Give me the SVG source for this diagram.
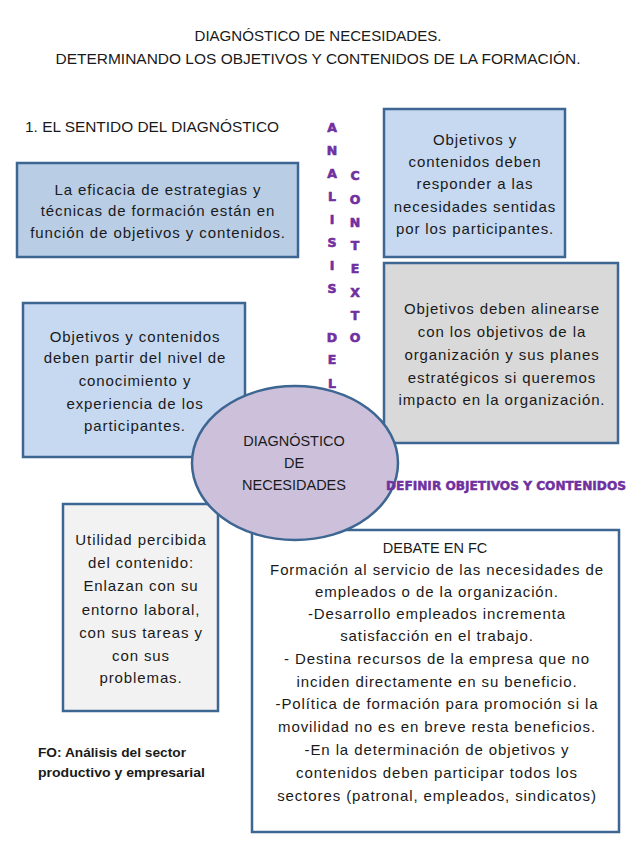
<svg xmlns="http://www.w3.org/2000/svg" width="636" height="848" viewBox="0 0 636 848">
<style>
.t{font-family:"Liberation Sans",Arial,sans-serif;font-size:15px;letter-spacing:0.9px;fill:#1a1a1a;text-anchor:middle}
.u{font-family:"Liberation Sans",Arial,sans-serif;font-size:14.5px;fill:#1a1a1a;text-anchor:middle}
.h{font-family:"Liberation Sans",Arial,sans-serif;font-size:14.5px;fill:#1a1a1a}
.box{stroke:#3d6692;stroke-width:2.5}
.v{font-family:"DejaVu Sans",sans-serif;font-weight:bold;font-size:12.5px;fill:#7030a0;text-anchor:middle;stroke:#7030a0;stroke-width:0.6}
.fo{font-family:"Liberation Sans",Arial,sans-serif;font-size:13px;font-weight:bold;fill:#1a1a1a}
</style>
<rect width="636" height="848" fill="#ffffff"/>
<g id="title">
<text class="u" x="318" y="41" textLength="247" lengthAdjust="spacingAndGlyphs">DIAGNÓSTICO DE NECESIDADES.</text>
<text class="u" x="318" y="64" textLength="525" lengthAdjust="spacingAndGlyphs">DETERMINANDO LOS OBJETIVOS Y CONTENIDOS DE LA FORMACIÓN.</text>
<text class="h" x="25" y="132" textLength="254" lengthAdjust="spacingAndGlyphs">1. EL SENTIDO DEL DIAGNÓSTICO</text>
</g>
<g id="analisis">
<text class="v" x="332" y="132">A</text>
<text class="v" x="332" y="155">N</text>
<text class="v" x="332" y="178">A</text>
<text class="v" x="332" y="201">L</text>
<text class="v" x="332" y="224">I</text>
<text class="v" x="332" y="247">S</text>
<text class="v" x="332" y="270">I</text>
<text class="v" x="332" y="293">S</text>
<text class="v" x="332" y="342">D</text>
<text class="v" x="332" y="364">E</text>
<text class="v" x="332" y="388">L</text>
<text class="v" x="355" y="180">C</text>
<text class="v" x="355" y="204">O</text>
<text class="v" x="355" y="227">N</text>
<text class="v" x="355" y="250">T</text>
<text class="v" x="355" y="273">E</text>
<text class="v" x="355" y="297">X</text>
<text class="v" x="355" y="320">T</text>
<text class="v" x="355" y="342">O</text>
</g>
<g id="box1">
<rect class="box" x="17" y="163" width="281" height="94" fill="#b9cde5"/>
<text class="t" x="158" y="195">La eficacia de estrategias y</text>
<text class="t" x="158" y="216">técnicas de formación están en</text>
<text class="t" x="158" y="238">función de objetivos y contenidos.</text>
</g>
<g id="box2">
<rect class="box" x="23" y="303" width="222" height="154" fill="#c6d9f1"/>
<text class="t" x="135" y="342">Objetivos y contenidos</text>
<text class="t" x="135" y="363">deben partir del nivel de</text>
<text class="t" x="135" y="386">conocimiento y</text>
<text class="t" x="135" y="409">experiencia de los</text>
<text class="t" x="135" y="431">participantes.</text>
</g>
<g id="box3">
<rect class="box" x="384" y="109" width="181" height="148" fill="#c6d9f1"/>
<text class="t" x="475" y="145">Objetivos y</text>
<text class="t" x="475" y="167">contenidos deben</text>
<text class="t" x="475" y="189">responder a las</text>
<text class="t" x="475" y="212">necesidades sentidas</text>
<text class="t" x="475" y="234">por los participantes.</text>
</g>
<g id="box4">
<rect class="box" x="384" y="263" width="234" height="180" fill="#d9d9d9"/>
<text class="t" x="502" y="314">Objetivos deben alinearse</text>
<text class="t" x="502" y="337">con los objetivos de la</text>
<text class="t" x="502" y="360">organización y sus planes</text>
<text class="t" x="502" y="383">estratégicos si queremos</text>
<text class="t" x="502" y="405">impacto en la organización.</text>
</g>
<g id="box5">
<rect class="box" x="63" y="504" width="155" height="207" fill="#f2f2f2"/>
<text class="t" x="141" y="545">Utilidad percibida</text>
<text class="t" x="141" y="568">del contenido:</text>
<text class="t" x="141" y="591">Enlazan con su</text>
<text class="t" x="141" y="615">entorno laboral,</text>
<text class="t" x="141" y="638">con sus tareas y</text>
<text class="t" x="141" y="661">con sus</text>
<text class="t" x="141" y="683">problemas.</text>
</g>
<g id="box6">
<rect class="box" x="252" y="530" width="367" height="302" fill="#ffffff"/>
<text class="u" x="435" y="553">DEBATE EN FC</text>
<text class="t" x="437" y="575">Formación al servicio de las necesidades de</text>
<text class="t" x="437" y="597">empleados o de la organización.</text>
<text class="t" x="437" y="619">-Desarrollo empleados incrementa</text>
<text class="t" x="437" y="641">satisfacción en el trabajo.</text>
<text class="t" x="437" y="664">- Destina recursos de la empresa que no</text>
<text class="t" x="437" y="687">inciden directamente en su beneficio.</text>
<text class="t" x="437" y="709">-Política de formación para promoción si la</text>
<text class="t" x="437" y="732">movilidad no es en breve resta beneficios.</text>
<text class="t" x="437" y="755">-En la determinación de objetivos y</text>
<text class="t" x="437" y="778">contenidos deben participar todos los</text>
<text class="t" x="437" y="801">sectores (patronal, empleados, sindicatos)</text>
</g>
<g id="fo">
<text class="fo" x="38" y="757" textLength="148" lengthAdjust="spacingAndGlyphs">FO: Análisis del sector</text>
<text class="fo" x="38" y="777" textLength="167" lengthAdjust="spacingAndGlyphs">productivo y empresarial</text>
</g>
<g id="center">
<ellipse cx="295" cy="463" rx="103" ry="77" fill="#ccc0da" stroke="#3d6692" stroke-width="2.5"/>
<text class="u" x="294" y="446">DIAGNÓSTICO</text>
<text class="u" x="294" y="468">DE</text>
<text class="u" x="294" y="490">NECESIDADES</text>
</g>
<g id="definir">
<text x="506" y="490" font-family="'DejaVu Sans',sans-serif" font-weight="bold" font-size="12.5" fill="#7030a0" stroke="#7030a0" stroke-width="0.5" text-anchor="middle" textLength="240" lengthAdjust="spacingAndGlyphs">DEFINIR OBJETIVOS Y CONTENIDOS</text>
</g>
<g id="connectors"></g>
</svg>
